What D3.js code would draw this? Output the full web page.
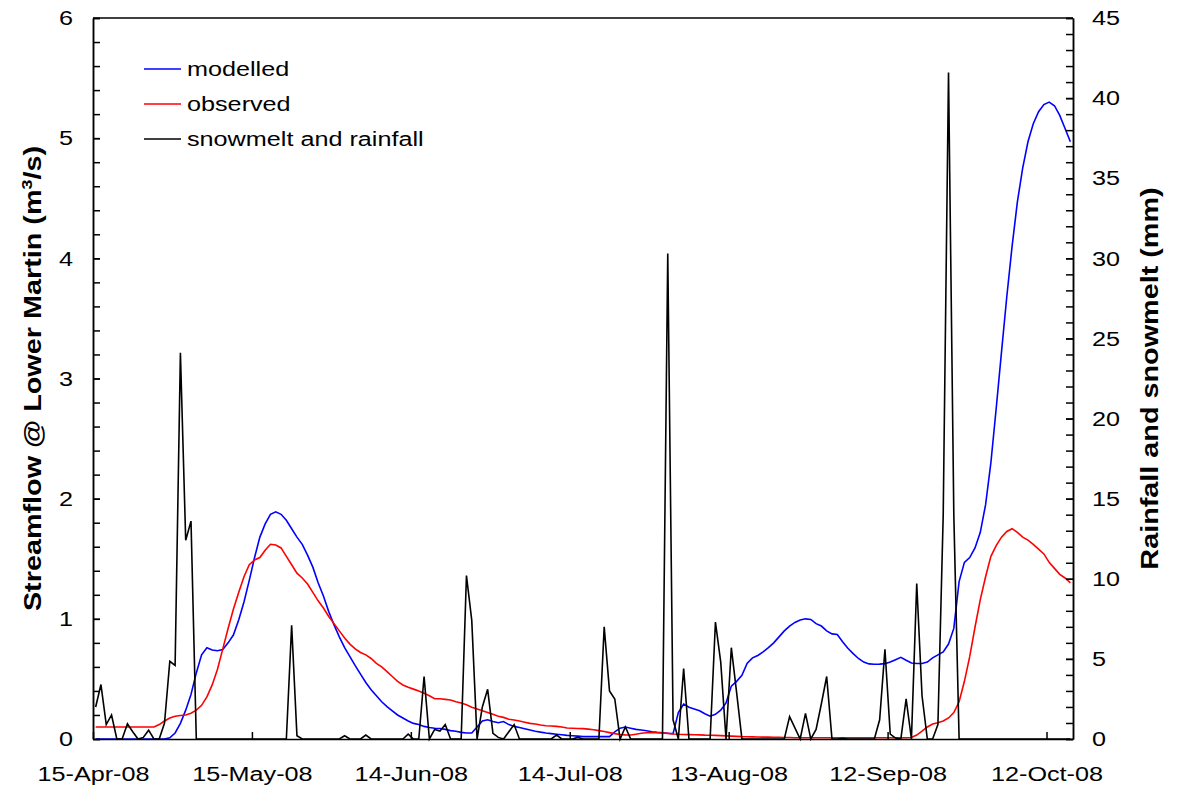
<!DOCTYPE html>
<html>
<head>
<meta charset="utf-8">
<script src="https://cdn.jsdelivr.net/npm/d3@7"></script>
<style>
  html, body { margin: 0; padding: 0; background: #fff; }
  svg { display: block; font-family: "Liberation Sans", Arial, Helvetica, sans-serif; }
  .axis path, .axis line { stroke: #000; stroke-width: 1.5; }
  .axis text { font-size: 21px; fill: #000; }
</style>
</head>
<body>
<svg id="chart" width="1184" height="791"></svg>
<script>
// Daily series, 15-Apr-08 to 16-Oct-08 (one value per day)
const startDate = "2008-04-15";
const endDate = "2008-10-17";

// Modelled streamflow (m3/s)
const modelled = [
  0, 0, 0, 0, 0, 0, 0, 0, 0, 0, 0, 0, 0, 0, 0.01,
  0.05, 0.13, 0.24, 0.37, 0.55, 0.70, 0.76, 0.74, 0.735, 0.745,
  0.80, 0.865, 0.99, 1.14, 1.32, 1.51, 1.68, 1.79, 1.87, 1.89,
  1.87, 1.82, 1.75, 1.68, 1.62, 1.53, 1.43, 1.30, 1.19, 1.06,
  0.95, 0.85, 0.76, 0.685, 0.61, 0.54, 0.47, 0.41, 0.36, 0.31,
  0.27, 0.235, 0.20, 0.175, 0.15, 0.13, 0.12, 0.105, 0.095, 0.09,
  0.088, 0.08, 0.07, 0.065, 0.055, 0.05, 0.05, 0.10, 0.15, 0.16,
  0.145, 0.135, 0.145, 0.12, 0.105, 0.095, 0.085, 0.075, 0.065, 0.057,
  0.05, 0.045, 0.04, 0.035, 0.03, 0.027, 0.024, 0.02, 0.02, 0.02,
  0.02, 0.02, 0.02, 0.06, 0.09, 0.10, 0.09, 0.08, 0.075, 0.068,
  0.06, 0.055, 0.052, 0.048, 0.045, 0.22, 0.29, 0.265, 0.25, 0.235,
  0.21, 0.19, 0.205, 0.24, 0.30, 0.44, 0.48, 0.53, 0.63, 0.675,
  0.695, 0.725, 0.76, 0.80, 0.85, 0.90, 0.94, 0.97, 0.99, 1.00,
  0.995, 0.96, 0.94, 0.90, 0.875, 0.87, 0.81, 0.755, 0.71, 0.67,
  0.64, 0.625, 0.622, 0.623, 0.627, 0.64, 0.66, 0.68, 0.655, 0.632,
  0.628, 0.628, 0.64, 0.675, 0.70, 0.725, 0.79, 0.92, 1.31, 1.47,
  1.51, 1.59, 1.72, 1.95, 2.30, 2.75, 3.22, 3.68, 4.10, 4.47,
  4.75, 4.97, 5.12, 5.22, 5.28, 5.30, 5.27, 5.19, 5.08, 4.97
];

// Observed streamflow (m3/s)
const observed = [
  0.10, 0.10, 0.10, 0.10, 0.10, 0.10, 0.10, 0.10, 0.10, 0.10,
  0.10, 0.10, 0.12, 0.15, 0.175, 0.19, 0.195, 0.20, 0.215, 0.24,
  0.28, 0.35, 0.45, 0.58, 0.75, 0.92, 1.08, 1.22, 1.35, 1.45,
  1.49, 1.51, 1.57, 1.62, 1.615, 1.59, 1.52, 1.45, 1.38, 1.34,
  1.29, 1.22, 1.15, 1.09, 1.02, 0.96, 0.90, 0.84, 0.79, 0.75,
  0.72, 0.70, 0.67, 0.63, 0.60, 0.56, 0.52, 0.48, 0.45, 0.43,
  0.415, 0.40, 0.38, 0.36, 0.335, 0.335, 0.33, 0.325, 0.31, 0.30,
  0.285, 0.265, 0.25, 0.235, 0.22, 0.205, 0.19, 0.18, 0.165, 0.158,
  0.15, 0.14, 0.13, 0.125, 0.117, 0.11, 0.108, 0.105, 0.10, 0.092,
  0.09, 0.088, 0.086, 0.082, 0.077, 0.07, 0.062, 0.053, 0.045, 0.038,
  0.034, 0.033, 0.04, 0.048, 0.052, 0.053, 0.052, 0.05, 0.047, 0.042,
  0.039, 0.037, 0.036, 0.035, 0.034, 0.032, 0.031, 0.03, 0.028, 0.026,
  0.024, 0.022, 0.02, 0.019, 0.018, 0.017, 0.016, 0.016, 0.015, 0.014,
  0.013, 0.012, 0.011, 0.01, 0.01, 0.01, 0.01, 0.01, 0.01, 0.01,
  0.01, 0.01, 0.01, 0.01, 0.01, 0.01, 0.01, 0.01, 0.01, 0.01,
  0.01, 0.01, 0.01, 0.01, 0.012, 0.033, 0.065, 0.10, 0.125, 0.136,
  0.15, 0.175, 0.22, 0.31, 0.48, 0.685, 0.93, 1.16, 1.35, 1.52,
  1.61, 1.68, 1.727, 1.75, 1.72, 1.68, 1.655, 1.62, 1.58, 1.54,
  1.47, 1.42, 1.37, 1.34, 1.30
];

// Snowmelt and rainfall (mm/day)
const rainfall = [
  2.0, 3.4, 0.9, 1.5, 0, 0, 0.95, 0.45, 0, 0.1,
  0.55, 0, 0, 1.0, 4.85, 4.6, 24.1, 12.4, 13.6, 0,
  0, 0, 0, 0, 0, 0, 0, 0, 0, 0,
  0, 0, 0, 0, 0, 0, 0, 7.1, 0.2, 0,
  0, 0, 0, 0, 0, 0, 0, 0.2, 0, 0,
  0, 0.25, 0, 0, 0, 0, 0, 0, 0, 0.3,
  0, 0, 3.9, 0, 0.6, 0.5, 0.9, 0, 0, 0,
  10.2, 7.4, 0, 2.0, 3.1, 0.35, 0.1, 0, 0.45, 0.9,
  0, 0, 0, 0, 0, 0, 0, 0.25, 0, 0,
  0, 0.1, 0, 0, 0, 0, 7.0, 3.0, 2.5, 0,
  0.75, 0, 0, 0, 0, 0, 0, 0, 30.3, 1.2,
  0, 4.4, 0, 0, 0, 0, 0, 7.3, 4.8, 0,
  5.7, 2.9, 0, 0, 0, 0, 0, 0, 0, 0,
  0, 1.4, 0.7, 0, 1.6, 0, 0.6, 2.2, 3.9, 0,
  0, 0.05, 0, 0, 0, 0, 0, 0, 1.2, 5.6,
  0.3, 0.06, 0, 2.5, 0, 9.7, 2.7, 0, 0, 0.9,
  14.0, 41.6, 14.0, 0, 0, 0, 0, 0, 0, 0,
  0, 0, 0, 0, 0, 0, 0, 0, 0, 0,
  0, 0, 0, 0, 0
];

// Date tick labels (every 30 days)
const tickDates = ["2008-04-15", "2008-05-15", "2008-06-14", "2008-07-14",
                   "2008-08-13", "2008-09-12", "2008-10-12"];
const leftTicks = [0, 1, 2, 3, 4, 5, 6];
const rightTicks = [0, 5, 10, 15, 20, 25, 30, 35, 40, 45];

const seriesNames = ["modelled", "observed", "snowmelt and rainfall"];
const seriesColors = ["#0000ff", "#ff0000", "#000000"];

// Text is drawn slightly widened along its baseline
const WIDE = 1.2;

const parse = d3.timeParse("%Y-%m-%d");
const fmt = d3.timeFormat("%d-%b-%y");

// Daily values are plotted at midday
const day0 = parse(startDate);
const dayAt = i => d3.timeHour.offset(d3.timeDay.offset(day0, i), 12);

const margin = { left: 93, right: 111, top: 18, bottom: 52 };
const W = 1184, H = 791;
const x0 = margin.left, x1 = W - margin.right, yTop = margin.top, yBot = H - margin.bottom;

const x = d3.scaleTime().domain([day0, parse(endDate)]).range([x0, x1]);
const yL = d3.scaleLinear().domain([0, 6]).range([yBot, yTop]);
const yR = d3.scaleLinear().domain([0, 45]).range([yBot, yTop]);

const svg = d3.select("#chart");

// Series lines
const lineL = d3.line().x((d, i) => x(dayAt(i))).y(d => yL(d));
const lineR = d3.line().x((d, i) => x(dayAt(i))).y(d => yR(d));

svg.append("path").datum(modelled).attr("d", lineL)
  .attr("fill", "none").attr("stroke", seriesColors[0]).attr("stroke-width", 1.6);
svg.append("path").datum(observed).attr("d", lineL)
  .attr("fill", "none").attr("stroke", seriesColors[1]).attr("stroke-width", 1.6);
svg.append("path").datum(rainfall).attr("d", lineR)
  .attr("fill", "none").attr("stroke", seriesColors[2]).attr("stroke-width", 1.6);

// Left axis: minor ticks every 0.2, labels on integers
const leftMinor = d3.range(0, 30.5).map(i => i * 0.2);
svg.append("g").attr("class", "axis").attr("transform", `translate(${x0},0)`)
  .call(d3.axisLeft(yL).tickValues(leftMinor).tickFormat("").tickSize(-7).tickSizeOuter(0));
svg.append("g").attr("class", "axis").attr("transform", `translate(${x0},0)`)
  .call(d3.axisLeft(yL).tickValues(leftTicks).tickFormat(d3.format("d")).tickSize(-7).tickSizeOuter(0))
  .selectAll(".tick text")
  .attr("x", 0).attr("transform", `translate(-20,0) scale(${WIDE},1)`);

// Right axis: minor ticks every 1 mm, labels every 5
svg.append("g").attr("class", "axis").attr("transform", `translate(${x1},0)`)
  .call(d3.axisRight(yR).tickValues(d3.range(0, 46)).tickFormat("").tickSize(-7).tickSizeOuter(0));
svg.append("g").attr("class", "axis").attr("transform", `translate(${x1},0)`)
  .call(d3.axisRight(yR).tickValues(rightTicks).tickFormat(d3.format("d")).tickSize(-7).tickSizeOuter(0))
  .selectAll(".tick text")
  .attr("x", 0).attr("transform", `translate(19,0) scale(${WIDE},1)`);

// Bottom date axis
svg.append("g").attr("class", "axis").attr("transform", `translate(0,${yBot})`)
  .call(d3.axisBottom(x).tickValues(tickDates.map(parse)).tickFormat(fmt).tickSize(-7).tickSizeOuter(0).tickPadding(27))
  .selectAll(".tick text")
  .attr("transform", `scale(${WIDE},1)`);

// Top border
svg.append("line").attr("x1", x0).attr("x2", x1).attr("y1", yTop).attr("y2", yTop)
  .attr("stroke", "#000").attr("stroke-width", 1.5);

// Axis titles
const lt = svg.append("text")
  .attr("transform", `translate(41,${(yTop + yBot) / 2}) rotate(-90) scale(${WIDE},1)`)
  .attr("text-anchor", "middle").attr("font-weight", "bold").attr("font-size", 24);
lt.append("tspan").text("Streamflow @ Lower Martin (m");
lt.append("tspan").attr("dy", -9).attr("font-size", 15).text("3");
lt.append("tspan").attr("dy", 9).text("/s)");

svg.append("text")
  .attr("transform", `translate(1158,${(yTop + yBot) / 2}) rotate(-90) scale(${WIDE},1)`)
  .attr("text-anchor", "middle").attr("font-weight", "bold").attr("font-size", 24)
  .text("Rainfall and snowmelt (mm)");

// Legend
const legend = svg.append("g").attr("transform", "translate(144,69)");
seriesNames.forEach((name, i) => {
  const g = legend.append("g").attr("transform", `translate(0,${i * 35})`);
  g.append("line").attr("x1", 0).attr("x2", 37).attr("y1", 0).attr("y2", 0)
    .attr("stroke", seriesColors[i]).attr("stroke-width", 1.6);
  g.append("text").attr("transform", `translate(43,0) scale(${WIDE},1)`)
    .attr("dy", "0.35em").attr("font-size", 21).text(name);
});
</script>
</body>
</html>
